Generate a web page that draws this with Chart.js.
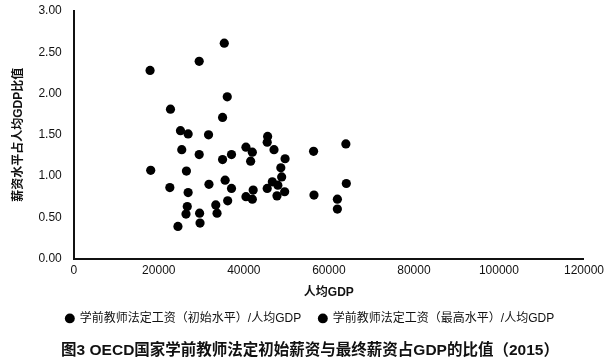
<!DOCTYPE html>
<html>
<head>
<meta charset="utf-8">
<script src="https://cdn.jsdelivr.net/npm/chart.js@4.4.0/dist/chart.umd.min.js"></script>
<style>
  html, body { margin: 0; padding: 0; background: #fff; }
  #wrap { width: 609px; height: 360px; }
</style>
</head>
<body>
<div id="wrap"><canvas id="mycanvas" width="609" height="360"></canvas></div>
<script>
// Per capita GDP (x) and salary / GDP ratio (y)
var initGdp   = [18100, 22600, 24500, 26400, 26700, 26900, 29600, 29700, 31800, 33700,
                 35000, 35600, 36200, 37100, 40500, 42000, 42200, 45500, 46700, 47800,
                 48900, 49600, 56500, 62000, 64100];
var initRatio = [1.07, 0.86, 0.39, 0.54, 0.63, 0.80, 0.55, 0.43, 0.90, 0.55,
                 1.20, 0.95, 0.70, 0.85, 0.75, 0.72, 0.83, 0.85, 0.93, 0.76,
                 0.99, 0.81, 0.77, 0.60, 0.91];

var topGdp   = [17950, 22750, 25100, 25400, 26500, 26900, 29500, 29500, 31700, 33400,
                35000, 35400, 36100, 37100, 40500, 41600, 42000, 45600, 45500, 47100,
                48000, 48700, 49700, 56400, 62000, 64000];
var topRatio = [2.28, 1.81, 1.55, 1.32, 1.06, 1.51, 2.39, 1.26, 1.50, 0.65,
                1.71, 2.61, 1.96, 1.26, 1.35, 1.18, 1.29, 1.48, 1.41, 1.32,
                0.89, 1.10, 1.21, 1.30, 0.72, 1.39];

var seriesNames = ['学前教师法定工资（初始水平）/人均GDP', '学前教师法定工资（最高水平）/人均GDP'];
var xTitle = '人均GDP';
var yTitle = '薪资水平占人均GDP比值';
var chartTitle = '图3 OECD国家学前教师法定初始薪资与最终薪资占GDP的比值（2015）';

var fontFam = "'Liberation Sans', 'Noto Sans CJK SC', sans-serif";

function toPoints(xs, ys)
{
  var pts = [];
  for (var i = 0; i < xs.length; i++)
  {
    pts.push({ x: xs[i], y: ys[i] });
  }
  return pts;
}

var ctx = document.getElementById('mycanvas');

var scatter = new Chart(ctx,
{
  type: 'scatter',
  data:
  {
    datasets: [
      {
        label: seriesNames[0],
        data: toPoints(initGdp, initRatio),
        backgroundColor: '#000',
        borderColor: '#000',
        borderWidth: 0,
        pointRadius: 4.6,
        pointHoverRadius: 4.6
      },
      {
        label: seriesNames[1],
        data: toPoints(topGdp, topRatio),
        backgroundColor: '#000',
        borderColor: '#000',
        borderWidth: 0,
        pointRadius: 4.6,
        pointHoverRadius: 4.6
      }
    ]
  },
  options:
  {
    responsive: false,
    animation: false,
    layout: { padding: { left: 11, right: 0, top: 0, bottom: 0 } },
    scales:
    {
      x:
      {
        type: 'linear',
        min: 0,
        max: 120000,
        grid: { display: false, drawTicks: false },
        border: { display: true, color: '#111', width: 2 },
        ticks:
        {
          stepSize: 20000,
          color: '#111',
          padding: 5,
          maxRotation: 0,
          font: { family: fontFam, size: 12 },
          callback: function(v) { return String(v); }
        },
        title:
        {
          display: true,
          text: xTitle,
          color: '#111',
          padding: { top: 2, bottom: 2 },
          font: { family: fontFam, size: 12, weight: 'bold' }
        }
      },
      y:
      {
        min: 0,
        max: 3,
        grid: { display: false, drawTicks: false },
        border: { display: true, color: '#111', width: 2 },
        ticks:
        {
          stepSize: 0.5,
          color: '#111',
          padding: 12,
          font: { family: fontFam, size: 12 },
          callback: function(v) { return v.toFixed(2); }
        },
        title:
        {
          display: true,
          text: yTitle,
          color: '#111',
          padding: { top: 0, bottom: 1 },
          font: { family: fontFam, size: 12, weight: 'bold' }
        },
        // tick padding is also added above the axis; keep only room for the top label
        afterFit: function(scale)
        {
          scale.paddingTop = 11;
        }
      }
    },
    plugins:
    {
      tooltip: { enabled: false },
      legend:
      {
        position: 'bottom',
        labels:
        {
          usePointStyle: true,
          pointStyle: 'circle',
          boxWidth: 8,
          boxHeight: 7,
          padding: 11,
          color: '#111',
          font: { family: fontFam, size: 12 },
          generateLabels: function(chart)
          {
            var items = Chart.defaults.plugins.legend.labels.generateLabels(chart);
            // a little extra room after the first entry
            items[0].text = items[0].text + '  ';
            return items;
          }
        }
      },
      title:
      {
        display: true,
        position: 'bottom',
        text: chartTitle,
        color: '#111',
        padding: { top: 7, bottom: 0 },
        font: { family: fontFam, size: 15.5, weight: 'bold' }
      }
    }
  }
});
</script>
</body>
</html>
